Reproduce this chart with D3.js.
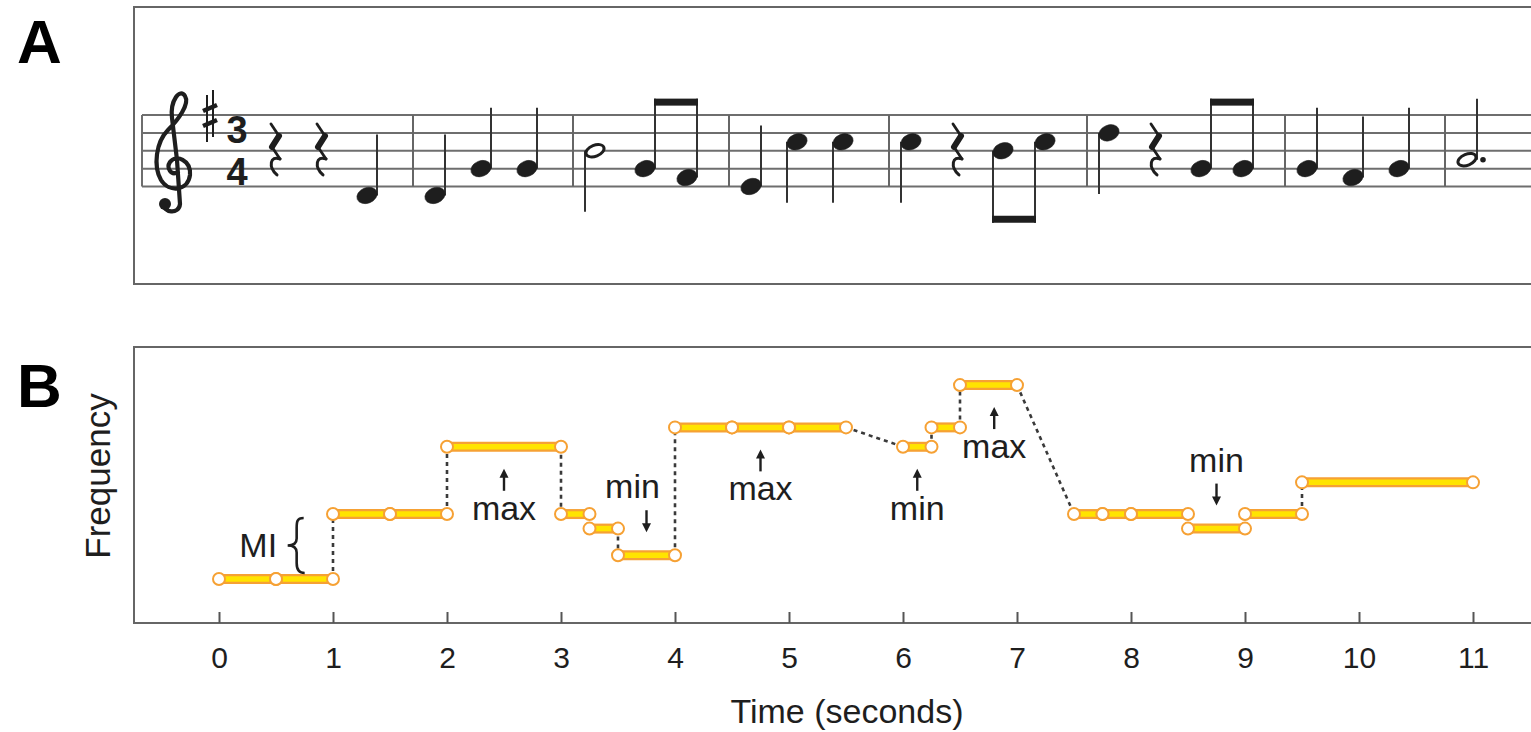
<!DOCTYPE html>
<html>
<head>
<meta charset="utf-8">
<script src="https://cdn.jsdelivr.net/npm/d3@7"></script>
<style>
  body { margin: 0; background: #fff; }
  svg text { font-family: "Liberation Sans", Arial, Helvetica, sans-serif; }
</style>
</head>
<body>
<div id="wrapper"></div>
<script>
// ---- data ----
const timeTicks = [0, 1, 2, 3, 4, 5, 6, 7, 8, 9, 10, 11]

// note lookup
const noteNames = ["D4", "E4", "F#4", "G4", "A4", "B4", "C5", "D5"]
const noteHz    = [293.66, 329.63, 369.99, 392.00, 440.00, 493.88, 523.25, 587.33]
const noteStep  = [-1, 0, 1, 2, 3, 4, 5, 6]   // staff steps above the bottom line (E4)

// pitch track, panel B
const segStart = [0, 0.5, 1, 1.5, 2, 3, 3.25, 3.5, 4, 4.5, 5, 6, 6.25, 6.5, 7.5, 7.75, 8, 8.5, 9, 9.5]
const segEnd   = [0.5, 1, 1.5, 2, 3, 3.25, 3.5, 4, 4.5, 5, 5.5, 6.25, 6.5, 7, 7.75, 8, 8.5, 9, 9.5, 11]
const segNote  = ["D4", "D4", "G4", "G4", "B4", "G4", "F#4", "E4", "C5", "C5", "C5", "B4", "C5", "D5", "G4", "G4", "G4", "F#4", "G4", "A4"]

// annotations
const annoText = ["max", "min", "max", "min", "max", "min"]
const annoTime = [2.5, 3.75, 4.75, 6.125, 6.8, 8.75]
const annoDir  = ["up", "down", "up", "up", "up", "down"]

// score, panel A ("|" = bar line, durations in eighths)
const scorePitch = ["rest", "rest", "D4", "|", "D4", "G4", "G4", "|", "B4", "G4", "F#4", "|",
  "E4", "C5", "C5", "|", "C5", "rest", "B4", "C5", "|", "D5", "rest", "G4", "G4", "|",
  "G4", "F#4", "G4", "|", "A4"]
const scoreDur = [2, 2, 2, 0, 2, 2, 2, 0, 4, 1, 1, 0, 2, 2, 2, 0, 2, 2, 1, 1, 0, 2, 2, 1, 1, 0, 2, 2, 2, 0, 6]
const timeSig = "34"

// ---- setup ----
const width = 1531
const height = 732
const ink = "#1e1e1e"
const frame = "#666"
const orange = "#F6A134"
const yellow = "#FFE400"

const svg = d3.select("#wrapper")
  .append("svg")
    .attr("width", width)
    .attr("height", height)

const hzOf = n => noteHz[noteNames.indexOf(n)]
const stepOf = n => noteStep[noteNames.indexOf(n)]

// ================= panel B =================
const xScale = d3.scaleLinear().domain([0, 11]).range([219, 1473])
const yScale = d3.scaleLinear().domain([227, 645]).range([623, 347])

const panelB = svg.append("g").attr("id", "panel-b")

panelB.append("path")
  .attr("d", `M${width},347H134V623H${width}`)
  .attr("fill", "none")
  .attr("stroke", frame)
  .attr("stroke-width", 2)

// x axis
panelB.append("g")
  .attr("id", "x-axis")
  .attr("transform", "translate(0,623)")
  .call(d3.axisBottom(xScale)
    .tickValues(timeTicks)
    .tickSizeInner(-11)
    .tickSizeOuter(0)
    .tickPadding(24))
  .attr("font-size", 30)
  .attr("font-family", "Liberation Sans, Arial, sans-serif")
  .call(g => g.select(".domain").remove())
  .call(g => g.selectAll(".tick line").attr("stroke", "#555").attr("stroke-width", 2))
  .call(g => g.selectAll(".tick text").attr("fill", ink))

panelB.append("text")
  .attr("x", 847)
  .attr("y", 723)
  .attr("text-anchor", "middle")
  .attr("font-size", 34)
  .attr("fill", ink)
  .text("Time (seconds)")

panelB.append("text")
  .attr("transform", "translate(110,476) rotate(-90)")
  .attr("text-anchor", "middle")
  .attr("font-size", 35)
  .attr("fill", ink)
  .text("Frequency")

// dashed connectors between neighbouring notes
const links = []
for (let i = 0; i < segNote.length - 1; i++) {
  if (segEnd[i] !== segStart[i + 1] || segNote[i] !== segNote[i + 1]) {
    links.push([segEnd[i], hzOf(segNote[i]), segStart[i + 1], hzOf(segNote[i + 1])])
  }
}
panelB.append("g")
  .selectAll("line")
  .data(links)
  .join("line")
    .attr("x1", d => xScale(d[0]))
    .attr("y1", d => yScale(d[1]))
    .attr("x2", d => xScale(d[2]))
    .attr("y2", d => yScale(d[3]))
    .attr("stroke", "#3a3a3a")
    .attr("stroke-width", 2.6)
    .attr("stroke-dasharray", "4,4")

const segs = segNote.map((n, i) => ({ t0: segStart[i], t1: segEnd[i], f: hzOf(n) }))

const bars = panelB.append("g")
bars.selectAll(".outer")
  .data(segs)
  .join("line")
    .attr("class", "outer")
    .attr("x1", d => xScale(d.t0))
    .attr("x2", d => xScale(d.t1))
    .attr("y1", d => yScale(d.f))
    .attr("y2", d => yScale(d.f))
    .attr("stroke", orange)
    .attr("stroke-width", 10)
bars.selectAll(".inner")
  .data(segs)
  .join("line")
    .attr("class", "inner")
    .attr("x1", d => xScale(d.t0))
    .attr("x2", d => xScale(d.t1))
    .attr("y1", d => yScale(d.f))
    .attr("y2", d => yScale(d.f))
    .attr("stroke", yellow)
    .attr("stroke-width", 5.5)

const ends = segs.flatMap(d => [[d.t0, d.f], [d.t1, d.f]])
panelB.append("g")
  .selectAll("circle")
  .data(ends)
  .join("circle")
    .attr("cx", d => xScale(d[0]))
    .attr("cy", d => yScale(d[1]))
    .attr("r", 6)
    .attr("fill", "#fff")
    .attr("stroke", orange)
    .attr("stroke-width", 2)

// max / min annotations
const textShift = [0, -14, 0, 0, 0, 0]
annoText.forEach((label, i) => {
  const t = annoTime[i]
  const seg = segs.find(d => d.t0 <= t && t < d.t1)
  const ax = xScale(t)
  const sy = yScale(seg.f)
  const g = panelB.append("g").attr("fill", ink).attr("stroke", ink)
  let tip, tail, base
  if (annoDir[i] === "up") {
    tip = sy + 22; tail = sy + 44; base = sy + 73
  } else {
    tip = sy - 23; tail = sy - 45; base = sy - 57
  }
  const s = annoDir[i] === "up" ? 1 : -1
  g.append("line")
    .attr("x1", ax).attr("x2", ax)
    .attr("y1", tail).attr("y2", tip + s * 6)
    .attr("stroke-width", 2.4)
  g.append("path")
    .attr("d", `M${ax},${tip}L${ax - 4.5},${tip + s * 9}L${ax + 4.5},${tip + s * 9}Z`)
    .attr("stroke", "none")
  g.append("text")
    .attr("x", ax + textShift[i])
    .attr("y", base)
    .attr("text-anchor", "middle")
    .attr("font-size", 34)
    .attr("stroke", "none")
    .text(label)
})

// MI brace between the first two pitches
const yLo = yScale(hzOf("D4"))
const yHi = yScale(hzOf("G4"))
const bx = xScale(0.69)
const bTop = yHi + 4
const bBot = yLo - 6
const bMid = (bTop + bBot) / 2
panelB.append("path")
  .attr("d", `M${bx + 6},${bTop} C${bx - 1},${bTop} ${bx - 1},${bTop + 4} ${bx - 1},${bTop + 10}
    L${bx - 1},${bMid - 7} C${bx - 1},${bMid - 2} ${bx - 4},${bMid} ${bx - 10},${bMid}
    C${bx - 4},${bMid} ${bx - 1},${bMid + 2} ${bx - 1},${bMid + 7}
    L${bx - 1},${bBot - 10} C${bx - 1},${bBot - 4} ${bx + 1},${bBot} ${bx + 7},${bBot}`)
  .attr("fill", "none")
  .attr("stroke", ink)
  .attr("stroke-width", 2.6)
panelB.append("text")
  .attr("x", xScale(0.51))
  .attr("y", bMid + 11)
  .attr("text-anchor", "end")
  .attr("font-size", 34)
  .attr("fill", ink)
  .text("MI")

// ================= panel A =================
const panelA = svg.append("g").attr("id", "panel-a")

panelA.append("path")
  .attr("d", `M${width},7H134V284H${width}`)
  .attr("fill", "none")
  .attr("stroke", frame)
  .attr("stroke-width", 2)

const staffY = d3.scaleLinear().domain([0, 8]).range([186.5, 115])

panelA.append("g")
  .selectAll("line")
  .data([0, 2, 4, 6, 8])
  .join("line")
    .attr("x1", 142).attr("x2", width)
    .attr("y1", d => staffY(d)).attr("y2", d => staffY(d))
    .attr("stroke", "#6e6e6e")
    .attr("stroke-width", 2)
panelA.append("line")
  .attr("x1", 142).attr("x2", 142)
  .attr("y1", staffY(8)).attr("y2", staffY(0))
  .attr("stroke", "#6e6e6e").attr("stroke-width", 2)

// treble clef
panelA.append("path")
  .attr("d", "M163,203 C163,213 179,215 180,204 L177,160 L172,118 C170,100 180,88 185,96 " +
    "C190,104 178,120 168,130 C156,142 153,166 161,180 C169,193 188,191 190,175 " +
    "C191,160 176,154 170,162 C166,168 171,176 178,172")
  .attr("fill", "none")
  .attr("stroke", ink)
  .attr("stroke-width", 4.2)
  .attr("stroke-linecap", "round")
panelA.append("circle").attr("cx", 165).attr("cy", 204).attr("r", 6).attr("fill", ink)

// key signature: sharp on F5
const sy = staffY(8)
panelA.append("path")
  .attr("d", `M207,${sy - 20}V${sy + 27} M213,${sy - 25}V${sy + 22}`)
  .attr("stroke", ink).attr("stroke-width", 2)
panelA.append("path")
  .attr("d", `M203,${sy - 4}L217,${sy - 10} M203,${sy + 11}L217,${sy + 5}`)
  .attr("stroke", ink).attr("stroke-width", 4.5)

// time signature 3/4: a single vertical run, one digit per half staff
panelA.append("text")
  .attr("x", 237)
  .attr("y", staffY(4))
  .attr("text-anchor", "middle")
  .attr("dominant-baseline", "central")
  .style("writing-mode", "vertical-rl")
  .style("text-orientation", "upright")
  .attr("font-family", "DejaVu Serif, Liberation Serif, serif")
  .attr("font-weight", "bold")
  .attr("font-size", 38)
  .attr("fill", ink)
  .text(timeSig)

// engraving: horizontal spacing by duration
const advance = { 1: 42, 2: 46, 4: 50, 6: 50 }
const barGap = 22
let cursor = 275
const events = scorePitch.map((p, i) => {
  const ev = { pitch: p, dur: scoreDur[i], x: cursor }
  if (p === "|") cursor += barGap
  else cursor += advance[scoreDur[i]]
  return ev
})

// bar lines
panelA.append("g")
  .selectAll("line")
  .data(events.filter(e => e.pitch === "|"))
  .join("line")
    .attr("x1", d => d.x).attr("x2", d => d.x)
    .attr("y1", staffY(8)).attr("y2", staffY(0))
    .attr("stroke", "#666").attr("stroke-width", 2)

// rests
const rests = events.filter(e => e.pitch === "rest")
rests.forEach(r => {
  const cx = r.x, t = staffY(7)
  const g = panelA.append("g").attr("fill", "none").attr("stroke", ink).attr("stroke-linecap", "round")
  g.append("path").attr("d", `M${cx - 4},${t} L${cx + 4},${t + 12}`).attr("stroke-width", 2.8)
  g.append("path").attr("d", `M${cx + 4},${t + 12} L${cx - 3},${t + 23}`).attr("stroke-width", 6)
  g.append("path").attr("d", `M${cx - 3},${t + 23} L${cx + 5},${t + 35}`).attr("stroke-width", 2.8)
  g.append("path").attr("d", `M${cx + 5},${t + 35} C${cx - 5},${t + 31} ${cx - 7},${t + 43} ${cx + 2},${t + 51}`)
    .attr("stroke-width", 3)
})

// notes
const notes = events.filter(e => e.pitch !== "|" && e.pitch !== "rest")
notes.forEach(n => { n.step = stepOf(n.pitch); n.y = staffY(n.step) })

// beam groups: consecutive eighth notes in pairs
const beamed = new Set()
const groups = []
for (let i = 0; i < events.length - 1; i++) {
  const a = events[i], b = events[i + 1]
  if (a.dur === 1 && b.dur === 1 && a.pitch !== "rest" && b.pitch !== "rest" && !beamed.has(a)) {
    groups.push([a, b]); beamed.add(a); beamed.add(b)
  }
}

const stemLen = 61
const stemDx = 10
notes.forEach(n => {
  if (beamed.has(n)) return
  const up = n.step < 4
  const sx = n.x + (up ? stemDx : -stemDx)
  panelA.append("line")
    .attr("x1", sx).attr("x2", sx)
    .attr("y1", n.y).attr("y2", up ? n.y - stemLen : n.y + stemLen)
    .attr("stroke", "#333").attr("stroke-width", 2)
})

groups.forEach(gr => {
  const steps = gr.map(n => stepOf(n.pitch))
  const ys = gr.map(n => staffY(stepOf(n.pitch)))
  const up = d3.mean(steps) < 4
  const beamY = up ? d3.min(ys) - 70 : d3.max(ys) + 72 - 7
  const xs = gr.map(n => n.x + (up ? stemDx : -stemDx))
  gr.forEach((n, k) => {
    panelA.append("line")
      .attr("x1", xs[k]).attr("x2", xs[k])
      .attr("y1", ys[k]).attr("y2", up ? beamY : beamY + 7)
      .attr("stroke", "#333").attr("stroke-width", 2)
  })
  panelA.append("rect")
    .attr("x", xs[0] - 1).attr("y", beamY)
    .attr("width", xs[1] - xs[0] + 2).attr("height", 7)
    .attr("fill", ink)
})

// note heads
panelA.append("g")
  .selectAll("ellipse")
  .data(notes)
  .join("ellipse")
    .attr("transform", d => `translate(${d.x},${d.y}) rotate(-22)`)
    .attr("rx", d => d.dur >= 4 ? 9.5 : 10.5)
    .attr("ry", d => d.dur >= 4 ? 5.5 : 7.8)
    .attr("fill", d => d.dur >= 4 ? "#fff" : ink)
    .attr("stroke", ink)
    .attr("stroke-width", d => d.dur >= 4 ? 3 : 0.5)

// augmentation dot on the dotted half
panelA.append("g")
  .selectAll("circle")
  .data(notes.filter(d => d.dur === 6))
  .join("circle")
    .attr("cx", d => d.x + 16)
    .attr("cy", d => d.y)
    .attr("r", 2.8)
    .attr("fill", ink)

// panel letters
svg.selectAll(".panel-label")
  .data(["A", "B"])
  .join("text")
    .attr("class", "panel-label")
    .attr("x", 17)
    .attr("y", (d, i) => i === 0 ? 63 : 407)
    .attr("font-size", 62)
    .attr("font-weight", "bold")
    .attr("fill", "#000")
    .text(d => d)
</script>
</body>
</html>
